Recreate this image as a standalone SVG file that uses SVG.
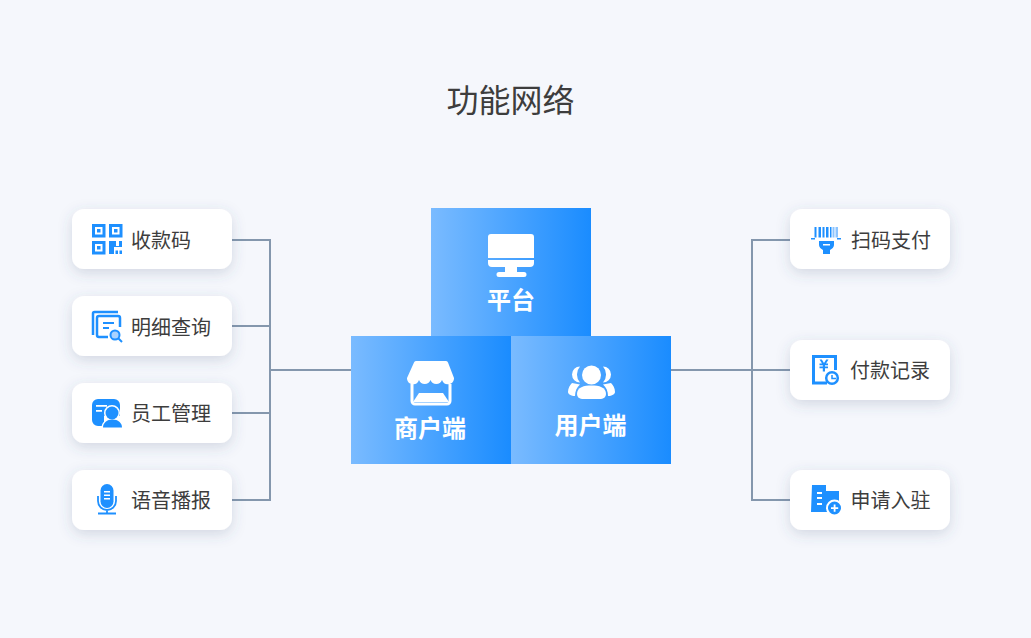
<svg xmlns="http://www.w3.org/2000/svg" width="1031" height="638" viewBox="0 0 1031 638">
<style>
.t{font-family:"Noto Sans CJK SC","Noto Sans",sans-serif;fill:#3d3d3d}
.l{font-size:20px;text-anchor:start}
.h{font-size:24px;font-weight:700;fill:#fff;text-anchor:middle;font-family:"Noto Sans CJK SC","Noto Sans",sans-serif}
.c{fill:#fff;filter:url(#s)}
.b{fill:#1e90ff}
.o{fill:none;stroke:#1e90ff}
.w{fill:#fff}
.conn{fill:none;stroke:#8497ad;stroke-width:2}
</style>
<defs>
<linearGradient id="g"><stop offset="0" stop-color="#7abbff"/><stop offset="1" stop-color="#1a8cff"/></linearGradient>
<filter id="s" x="-20%" y="-40%" width="140%" height="190%"><feDropShadow dx="0" dy="4" stdDeviation="7" flood-color="#4a5a7a" flood-opacity=".2"/></filter>
</defs>
<rect width="1031" height="638" fill="#f5f7fc"/>
<text class="t" x="510.500" y="112" font-size="32" text-anchor="middle">功能网络</text>
<g id="connectors" class="conn">
<path d="M232 240H270V500H232M232 326H270M232 413H270M270 370H351"/>
<path d="M790 240H752V500H790M671 370H790"/>
</g>
<g id="platform">
<rect x="431" y="208" width="160" height="128" fill="url(#g)"/>
<path class="w" d="M491 234H531a3 3 0 0 1 3 3V258H488V237a3 3 0 0 1 3-3ZM488 260H534V263a4 4 0 0 1-4 4H517V272H524a2.500 2.500 0 0 1 0 5H499a2.500 2.500 0 0 1 0-5H505V267H492a4 4 0 0 1-4-4Z"/>
<text class="h" x="511" y="309">平台</text>
</g>
<g id="merchant">
<rect x="351" y="336" width="160" height="128" fill="url(#g)"/>
<path class="w" d="M416 361H446a2 2 0 0 1 2 1.500L454 378V379A6.200 6.200 0 0 1 442 380A6.200 6.200 0 0 1 430.500 380A6.200 6.200 0 0 1 419 380A6.200 6.200 0 0 1 407 379V378L414 362.500a2 2 0 0 1 2-1.500Z"/>
<path d="M412 384V401a3 3 0 0 0 3 3H447a3 3 0 0 0 3-3V384" fill="none" stroke="#fff" stroke-width="3"/>
<path class="w" d="M419 393H443L449 402H413Z"/>
<text class="h" x="430" y="437">商户端</text>
</g>
<g id="user">
<rect x="511" y="336" width="160" height="128" fill="url(#g)"/>
<circle class="w" cx="591.500" cy="375" r="9.500"/>
<path class="w" d="M582 399a5 5 0 0 1-5-5C577 387 584 385.500 591.500 385.500S606 387 606 394a5 5 0 0 1-5 5Z"/>
<path class="w" d="M580 366.500A8 8 0 1 0 580 382.500A12 12 0 0 1 580 366.500ZM603 366.500A8 8 0 1 1 603 382.500A12 12 0 0 0 603 366.500Z"/>
<path class="w" d="M572 383C570 385 568 388 568 392C568 394 571 396 575 396C575 391 577 387 580 384.500ZM611 383C613 385 615 388 615 392C615 394 612 396 608 396C608 391 606 387 603 384.500Z"/>
<text class="h" x="590.500" y="434">用户端</text>
</g>
<g id="n1">
<rect class="c" x="72" y="209" width="160" height="60" rx="12"/>
<path class="o" stroke-width="3" d="M93.500 225.500h10.500v10.500H93.500ZM110.500 225.500h10.500v10.500H110.500ZM93.500 242.500h10.500v10.500H93.500Z"/>
<path class="b" d="M97 229h3.500v3.500H97ZM114 229h3.500v3.500H114ZM97 246h3.500v3.500H97ZM109 241h7v5h3v-5h3v6h-8v7h-5ZM115.500 250.500h2.500v3.500h-2.500ZM119.500 250.500h2.500v3.500h-2.500Z"/>
<text class="t l" x="131" y="247.500">收款码</text>
</g>
<g id="n2">
<rect class="c" x="72" y="296" width="160" height="60" rx="12"/>
<path class="o" stroke-width="2.500" d="M118 312H94.500a1.500 1.500 0 0 0-1.500 1.500V335"/>
<path class="o" stroke-width="2.500" d="M108 337H99a2 2 0 0 1-2-2V318a2 2 0 0 1 2-2H118a2 2 0 0 1 2 2V327"/>
<path class="b" d="M103 322h11v2h-11ZM103 327h6v2h-6Z"/>
<circle cx="115" cy="335" r="4.500" fill="#a9d3ff" stroke="#1e90ff" stroke-width="2"/>
<path class="o" stroke-width="2" d="M118.500 338.500L122 342"/>
<text class="t l" x="131" y="334.500">明细查询</text>
</g>
<g id="n3">
<rect class="c" x="72" y="383" width="160" height="60" rx="12"/>
<path class="b" d="M98 399H114a6 6 0 0 1 6 6V411H92V405a6 6 0 0 1 6-6ZM92 411H104V426H98a6 6 0 0 1-6-6ZM104 408H120V416H104Z"/>
<g stroke="#fff" stroke-width="3"><circle cx="112" cy="413" r="6.500" fill="#fff"/><path d="M103 428C103 423 107 420 112 420S122 423 122 428Z" fill="#fff"/></g>
<circle class="b" cx="112" cy="413" r="6.500"/>
<path class="b" d="M103 427.500C103 423 107 419.500 112.500 419.500S122 423 122 427.500Z"/>
<path class="w" d="M96 405h11v1.800H96ZM96 410h6v1.800h-6Z"/>
<text class="t l" x="131" y="421">员工管理</text>
</g>
<g id="n4">
<rect class="c" x="72" y="470" width="160" height="60" rx="12"/>
<rect class="b" x="100.500" y="484" width="13" height="24" rx="6.500"/>
<path class="w" d="M104 491h6v1.500h-6ZM104 494.500h6v1.500h-6ZM104 498h6v1.500h-6Z"/>
<path class="o" stroke-width="1.800" d="M98 496V501a9 9 0 0 0 18 0V496M107 510V513M98 513.500H116"/>
<text class="t l" x="131" y="508">语音播报</text>
</g>
<g id="n5">
<rect class="c" x="790" y="209" width="160" height="60" rx="12"/>
<path class="b" d="M814.500 227h2v10.500h-2ZM818.500 227h2.500v10.500h-2.500ZM822.500 227h2v10.500h-2ZM826 227h2.500v10.500h-2.500ZM830 227h1.500v10.500H830ZM811 238h4v1.500h-4ZM817 238h16v.1h-16ZM837 238h4v1.500h-4Z"/>
<path fill="#8cc4ff" d="M832.500 227h2v10.500h-2ZM835.500 227h2.500v10.500h-2.500Z"/>
<path class="b" d="M819 241H834V245C834 247 832 249 830 250V254H823V250C821 249 819 247 819 245Z"/>
<rect class="w" x="823" y="244" width="7" height="1.500"/>
<text class="t l" x="851" y="247.500">扫码支付</text>
</g>
<g id="n6">
<rect class="c" x="790" y="340" width="160" height="60" rx="12"/>
<path class="o" stroke-width="3" d="M827 383H813.500V356.500H835.500V370"/>
<path class="b" d="M819.500 359.500h2.300l2.200 3.500 2.200-3.500h2.300l-2.500 4H828v1.800h-3v1.200h3v1.800h-3v3.200h-2.200v-3.200H819.500v-1.800h3.300v-1.200H819.500v-1.800h2.500Z"/>
<circle class="w" cx="832" cy="378" r="5.800" stroke="#1e90ff" stroke-width="2.500"/>
<path class="o" stroke-width="1.500" d="M832 375V378.500H836"/>
<text class="t l" x="850" y="378">付款记录</text>
</g>
<g id="n7">
<rect class="c" x="790" y="470" width="160" height="60" rx="12"/>
<path class="b" d="M812 485H826V491H839V505H829V512H811Z"/>
<path class="w" d="M817 492h5v2h-5ZM817 497h5v2h-5ZM817 503h5v2h-5Z"/>
<circle class="b" cx="834.500" cy="508" r="7.500" stroke="#fff" stroke-width="2"/>
<path class="w" d="M833.700 504.500h1.800v2.700h2.700v1.800h-2.700v2.700h-1.800V509H831v-1.800h2.700Z"/>
<text class="t l" x="850.500" y="508">申请入驻</text>
</g>
</svg>
